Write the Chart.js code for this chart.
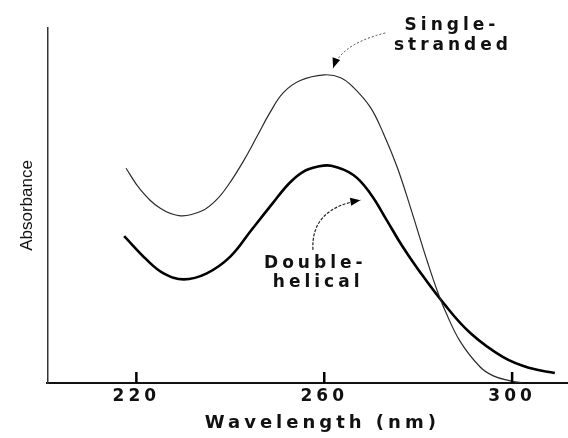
<!DOCTYPE html>
<html>
<head>
<meta charset="utf-8">
<script src="https://cdn.jsdelivr.net/npm/chart.js@4.4.0/dist/chart.umd.min.js"></script>
<style>
    html, body { margin: 0; padding: 0; background: #fff; }
    #wrap { position: relative; width: 568px; height: 438px; }
</style>
</head>
<body>
<div id="wrap"><canvas id="chart"></canvas></div>
<script>
// --- Data (wavelength in nm, absorbance in arbitrary units) ---
const singleWavelengths = [217.8, 220.9, 225.1, 229.4, 234, 237.2, 239.8, 242.8, 245.7, 248.5, 251.3, 254.9, 260, 263.5, 266.2, 269.8, 272.6, 275.5, 278.3, 280.1, 282, 284, 285.7, 288.9, 293.2, 296, 299.6, 302];
const singleAbsorbance  = [0.605, 0.544, 0.492, 0.471, 0.485, 0.518, 0.562, 0.625, 0.695, 0.763, 0.818, 0.852, 0.868, 0.860, 0.833, 0.777, 0.703, 0.609, 0.497, 0.420, 0.340, 0.262, 0.205, 0.118, 0.045, 0.020, 0.006, 0.001];

const doubleWavelengths = [217.4, 222.3, 225.8, 230.1, 235, 240, 244.5, 249, 252.5, 255.5, 258.5, 261.5, 266.2, 269.8, 273.3, 276.5, 280, 285.7, 291.1, 298.1, 303.8, 309.1];
const doubleAbsorbance  = [0.414, 0.346, 0.309, 0.292, 0.309, 0.356, 0.431, 0.506, 0.562, 0.595, 0.609, 0.612, 0.586, 0.534, 0.459, 0.388, 0.320, 0.220, 0.141, 0.073, 0.042, 0.028];

const xTicks = [220, 260, 300];
const xTitle = 'Wavelength (nm)';
const yTitle = 'Absorbance';
const singleLabel = ['Single-', 'stranded'];
const doubleLabel = ['Double-', 'helical'];

// annotation placement, in axis units
const annotationLayout = {
    arrows: [
        { from: [273, 0.986], ctrl: [263.6, 0.955], to: [261.9, 0.887], color: '#444', width: 1, dash: [2, 2] },
        { from: [257.6, 0.375], ctrl: [257.1, 0.492], to: [267.7, 0.515], color: '#222', width: 1.2, dash: [3, 1.5] }
    ],
    labels: [
        { lines: singleLabel, at: [[287.2, 0.994], [287.4, 0.938]] },
        { lines: doubleLabel, at: [[258.1, 0.324], [258.7, 0.270]] }
    ],
    // x title sits a bit right of the axis middle, below the tick labels
    xTitleAt: 259.6,
    xTitleBelow: 40,
    tickMark: 11
};

const toPoints = (xs, ys) => xs.map((x, i) => ({ x: x, y: ys[i] }));

// y title is drawn before the datasets without spacing, everything after them with wide spacing
const spacingPlugin = {
    id: 'spacing',
    beforeDraw(chart) { chart.ctx.letterSpacing = '0px'; },
    afterDatasetsDraw(chart) { chart.ctx.letterSpacing = '4px'; }
};

const annotationPlugin = {
    id: 'annotations',
    afterDraw(chart) {
        const { ctx, chartArea, scales: { x, y } } = chart;
        const px = p => [x.getPixelForValue(p[0]), y.getPixelForValue(p[1])];

        ctx.save();
        ctx.setLineDash([]);
        ctx.globalAlpha = 1;

        // tick marks point up into the plot
        ctx.strokeStyle = '#000';
        ctx.lineWidth = 2.5;
        xTicks.forEach(v => {
            const tx = x.getPixelForValue(v);
            ctx.beginPath();
            ctx.moveTo(tx, chartArea.bottom);
            ctx.lineTo(tx, chartArea.bottom - annotationLayout.tickMark);
            ctx.stroke();
        });

        annotationLayout.arrows.forEach(a => {
            const [x0, y0] = px(a.from);
            const [cx, cy] = px(a.ctrl);
            const [x1, y1] = px(a.to);
            ctx.strokeStyle = a.color;
            ctx.lineWidth = a.width;
            ctx.setLineDash(a.dash);
            ctx.beginPath();
            ctx.moveTo(x0, y0);
            ctx.quadraticCurveTo(cx, cy, x1, y1);
            ctx.stroke();

            // arrow head
            const ang = Math.atan2(y1 - cy, x1 - cx);
            const len = 10, half = 4;
            ctx.setLineDash([]);
            ctx.fillStyle = '#000';
            ctx.beginPath();
            ctx.moveTo(x1, y1);
            ctx.lineTo(x1 - len * Math.cos(ang) + half * Math.sin(ang), y1 - len * Math.sin(ang) - half * Math.cos(ang));
            ctx.lineTo(x1 - len * Math.cos(ang) - half * Math.sin(ang), y1 - len * Math.sin(ang) + half * Math.cos(ang));
            ctx.closePath();
            ctx.fill();
        });

        ctx.fillStyle = '#111';
        ctx.font = 'bold 17px "DejaVu Sans"';
        ctx.textAlign = 'center';
        ctx.textBaseline = 'alphabetic';
        annotationLayout.labels.forEach(l => {
            l.lines.forEach((text, i) => {
                const [tx, ty] = px(l.at[i]);
                ctx.fillText(text, tx, ty);
            });
        });

        ctx.font = 'bold 18px "DejaVu Sans"';
        ctx.textBaseline = 'middle';
        ctx.fillText(xTitle, x.getPixelForValue(annotationLayout.xTitleAt), chartArea.bottom + annotationLayout.xTitleBelow);
        ctx.restore();
    }
};

new Chart(document.getElementById('chart'), {
    type: 'line',
    data: {
        datasets: [
            {
                label: 'Single-stranded',
                data: toPoints(singleWavelengths, singleAbsorbance),
                borderColor: '#2a2a2a',
                borderWidth: 1.2,
                pointRadius: 0,
                fill: false,
                tension: 0.4
            },
            {
                label: 'Double-helical',
                data: toPoints(doubleWavelengths, doubleAbsorbance),
                borderColor: '#000',
                borderWidth: 2.6,
                pointRadius: 0,
                fill: false,
                tension: 0.4
            }
        ]
    },
    options: {
        responsive: true,
        maintainAspectRatio: false,
        animation: false,
        layout: { padding: { left: 12, top: 28, right: 0, bottom: 28 } },
        plugins: {
            legend: { display: false },
            tooltip: { enabled: false }
        },
        scales: {
            x: {
                type: 'linear',
                min: 201.06,
                max: 311.9,
                afterBuildTicks: scale => { scale.ticks = xTicks.map(v => ({ value: v })); },
                grid: { display: false, drawTicks: false },
                border: { color: '#111', width: 2 },
                ticks: {
                    z: 1,
                    padding: 5,
                    color: '#111',
                    maxRotation: 0,
                    font: { family: 'DejaVu Sans', size: 17, weight: 'bold', lineHeight: 1 }
                },
                title: { display: false }
            },
            y: {
                min: 0,
                max: 1,
                ticks: { display: false },
                grid: { display: false, drawTicks: false },
                border: { color: '#333', width: 1.5 },
                title: {
                    display: true,
                    text: yTitle,
                    color: '#111',
                    font: { family: "'Liberation Sans', sans-serif", size: 17, lineHeight: 1.2 },
                    padding: { top: 5, bottom: 10 }
                }
            }
        }
    },
    plugins: [spacingPlugin, annotationPlugin]
});
</script>
</body>
</html>
